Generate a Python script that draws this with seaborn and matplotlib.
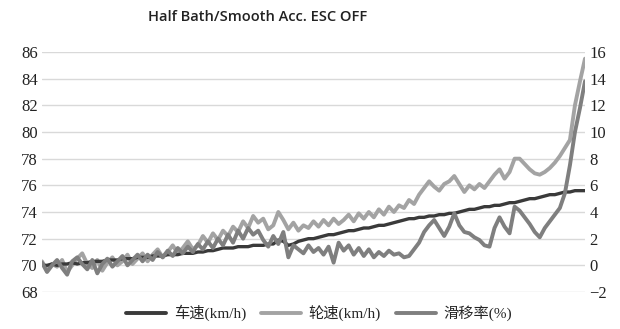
import numpy as np
import pandas as pd
import matplotlib
matplotlib.use("Agg")
import matplotlib.pyplot as plt
import seaborn as sns
from matplotlib.lines import Line2D
from matplotlib import font_manager as fm

# ---------------- data ----------------
vehicle_speed = [
    70.0, 70.0, 70.1, 70.0, 70.1, 70.1, 70.2, 70.1, 70.2, 70.2, 70.3,
    70.3, 70.3, 70.4, 70.4, 70.4, 70.5, 70.5, 70.5, 70.6, 70.6,
    70.6, 70.7, 70.7, 70.7, 70.8, 70.8, 70.8, 70.9, 70.9, 70.9,
    71.0, 71.0, 71.1, 71.1, 71.2, 71.3, 71.3, 71.3, 71.4, 71.4,
    71.4, 71.5, 71.5, 71.5, 71.6, 71.6, 71.9, 71.8, 71.5, 71.6,
    71.8, 71.9, 72.0, 72.0, 72.1, 72.2, 72.3, 72.3, 72.4, 72.5,
    72.6, 72.6, 72.7, 72.8, 72.8, 72.9, 73.0, 73.0, 73.1, 73.2,
    73.3, 73.4, 73.5, 73.5, 73.6, 73.6, 73.7, 73.7, 73.8, 73.8,
    73.9, 73.9, 74.0, 74.1, 74.2, 74.2, 74.3, 74.4, 74.4, 74.5,
    74.5, 74.6, 74.7, 74.7, 74.8, 74.9, 75.0, 75.0, 75.1, 75.2,
    75.3, 75.3, 75.4, 75.5, 75.5, 75.6, 75.6, 75.6,
]
wheel_speed = [
    70.3, 69.6, 70.1, 69.9, 70.4, 69.5, 70.0, 70.5, 70.9, 70.1, 69.8,
    70.4, 69.6, 70.2, 70.6, 70.0, 70.3, 70.8, 70.1, 70.5, 70.9,
    70.3, 70.8, 71.2, 70.6, 71.0, 71.5, 70.9, 71.3, 71.8, 71.2,
    71.5, 72.2, 71.7, 72.4, 71.9, 72.6, 72.2, 72.9, 72.5, 73.3,
    72.8, 73.7, 73.2, 73.5, 72.7, 73.0, 74.0, 73.4, 72.7, 73.2,
    72.6, 73.0, 72.8, 73.3, 72.9, 73.4, 73.0, 73.5, 73.1, 73.4,
    73.8, 73.3, 73.9, 73.5, 74.0, 73.6, 74.2, 73.8, 74.4, 74.0,
    74.5, 74.3, 74.9, 74.6, 75.3, 75.8, 76.3, 75.9, 75.6, 76.1,
    76.3, 76.7, 76.1, 75.5, 76.0, 75.7, 76.1, 75.8, 76.3, 76.8,
    77.2, 76.5, 77.0, 78.0, 78.0, 77.6, 77.2, 76.9, 76.8, 77.0,
    77.3, 77.7, 78.2, 78.8, 79.4, 82.0, 83.8, 85.5,
]
slip_rate = [
    0.2, -0.5, 0.0, 0.4, -0.2, -0.7, 0.3, 0.6, 0.1, -0.3, 0.4,
    -0.6, 0.1, 0.5, -0.1, 0.3, 0.7, 0.0, 0.4, 0.8, 0.3,
    0.8, 0.4, 1.0, 0.6, 1.1, 0.7, 1.3, 0.9, 1.4, 1.0,
    1.6, 1.2, 1.8, 1.3, 2.0, 1.5, 2.3, 1.7, 2.6, 2.0,
    2.8, 2.3, 2.6, 1.9, 1.4, 2.2, 1.6, 2.5, 0.6, 1.5,
    1.2, 0.9, 1.5, 1.0, 1.3, 0.8, 1.4, 0.2, 1.7, 1.1,
    1.5, 0.8, 1.3, 0.7, 1.2, 0.6, 1.0, 0.7, 1.1, 0.8,
    0.9, 0.6, 0.7, 1.2, 1.7, 2.5, 3.0, 3.4, 2.8, 2.2,
    2.9, 3.9, 3.0, 2.5, 2.4, 2.1, 1.9, 1.5, 1.4, 2.8,
    3.6, 2.9, 2.4, 4.4, 4.1, 3.6, 3.1, 2.5, 2.1, 2.8,
    3.3, 3.8, 4.3, 5.4, 7.5, 10.0, 11.8, 13.8,
]
left_ticks = [68, 70, 72, 74, 76, 78, 80, 82, 84, 86]
right_ticks = [-2, 0, 2, 4, 6, 8, 10, 12, 14, 16]
labels = ["车速(km/h)", "轮速(km/h)", "滑移率(%)"]
title = "Half Bath/Smooth Acc. ESC OFF"

# ---------------- plotting ----------------
sns.set_theme(style="white")
names = {f.name for f in fm.fontManager.ttflist}
serif_name = next((n for n in ["Liberation Serif", "Times New Roman", "DejaVu Serif"] if n in names), "serif")
fam = [serif_name, "Noto Sans CJK SC"]
plt.rcParams["font.family"] = fam

df = pd.DataFrame({
    "t": np.arange(len(vehicle_speed)),
    "v": vehicle_speed,
    "w": wheel_speed,
    "s": slip_rate,
})

c_v, c_w, c_s = "#3a3a3a", "#a3a3a3", "#7f7f7f"
lw = 2.8

fig = plt.figure(figsize=(6.2, 3.29), dpi=100)
ax = fig.add_axes([42 / 620, 1 - 292 / 329, (585 - 42) / 620, (292 - 52) / 329])
ax2 = ax.twinx()

sns.lineplot(data=df, x="t", y="w", ax=ax, color=c_w, lw=lw)
sns.lineplot(data=df, x="t", y="v", ax=ax, color=c_v, lw=2.4, zorder=3)
sns.lineplot(data=df, x="t", y="s", ax=ax2, color=c_s, lw=lw)

ax.set_ylim(68, 86)
ax2.set_ylim(-2, 16)
ax.set_xlim(0, len(vehicle_speed) - 1)
ax.set_yticks(left_ticks)
ax2.set_yticks(right_ticks)
ax.set_yticklabels([str(t) for t in left_ticks])
ax2.set_yticklabels([str(t).replace("-", "\u2212") for t in right_ticks])
ax.set_xticks([])
ax.set_xlabel("")
ax.set_ylabel("")
ax2.set_ylabel("")
ax.grid(axis="y", color="#d9d9d9", lw=1)
ax2.grid(False)
for a in (ax, ax2):
    for sp in a.spines.values():
        sp.set_visible(False)
    a.tick_params(axis="y", length=0, labelsize=12, colors="#222222", pad=3)
    for lbl in a.get_yticklabels():
        lbl.set_family(fam)

fig.text(258 / 620, 1 - 17 / 329, title, ha="center", va="center",
         fontsize=10.5, family=["Open Sans"], weight="semibold", color="#222222")

handles = [Line2D([], [], color=c, lw=lw) for c in (c_v, c_w, c_s)]
fig.legend(handles, labels, loc="center", bbox_to_anchor=(0.515, 1 - 313 / 329),
           ncol=3, frameon=False, handlelength=2.6,
           handletextpad=0.5, columnspacing=1.0,
           prop={"family": fam, "size": 11})

fig.savefig("out.png", dpi=100)
